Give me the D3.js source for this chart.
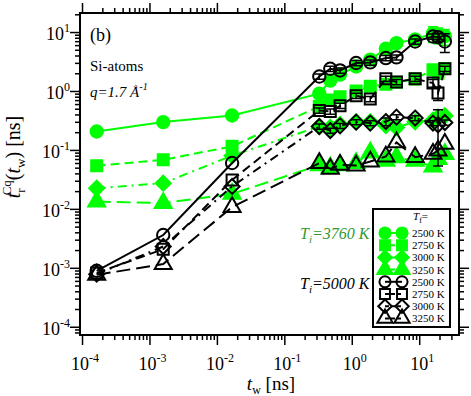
<!DOCTYPE html>
<html>
<head>
<meta charset="utf-8">
<script src="https://cdn.jsdelivr.net/npm/d3@7"></script>
<style>
  body { margin: 0; background: #fff; }
  text { font-family: "Liberation Serif", "Times New Roman", serif; }
</style>
</head>
<body>
<svg id="chart" width="471" height="396"></svg>
<script>
// waiting times t_w [ns]
var tw = [1.65e-4, 1.6e-3, 0.0168, 0.33, 0.48, 0.67, 1.16, 1.88, 3.2, 4.6, 8.7, 16, 19, 24];

// T_i = 3760 K (green)
var gCirc = [0.205, 0.297, 0.384, 0.9, 1.5, 1.9, 2.6, 3.4, 5.2, 6.5, 7.5, 9.5, 9.0, 8.5];
var gSq   = [0.054, 0.068, 0.115, 0.55, 0.7, 0.8, 1.0, 1.2, 1.3, 1.4, 1.6, 2.3, 2.0, 2.4];
var gDia  = [0.0224, 0.0273, 0.08, 0.25, 0.24, 0.27, 0.3, 0.3, 0.26, 0.24, 0.3, 0.32, 0.36, 0.38];
var gTri  = [0.0133, 0.0125, 0.018, 0.055, 0.05, 0.055, 0.06, 0.09, 0.065, 0.075, 0.065, 0.052, 0.07, 0.085];

// T_i = 5000 K (black)
var bCirc = [8.9e-4, 3.6e-3, 0.06, 1.76, 2.38, 2.23, 2.98, 3.05, 3.62, 3.71, 6.9, 8.4, 8.2, 6.9];
var bSq   = [8.2e-4, 2.07e-3, 0.031, 0.467, 0.449, 0.561, 0.83, 0.73, 1.61, 1.42, 1.61, 1.36, 0.92, 2.38];
var bDia  = [7.8e-4, 2.3e-3, 0.024, 0.25, 0.213, 0.256, 0.296, 0.285, 0.303, 0.36, 0.347, 0.285, 0.267, 0.292];
var bTri  = [7.6e-4, 1.16e-3, 0.0107, 0.0597, 0.0478, 0.0558, 0.0543, 0.0636, 0.0773, 0.134, 0.0755, 0.0859, 0.0977, 0.127];

// relative error bars
var gCircErr = [0.1, 0.1, 0.1, 0.15, 0.15, 0.15, 0.15, 0.15, 0.15, 0.15, 0.2, 0.3, 0.3, 0.3];
var bCircErr = [0, 0, 0, 0.1, 0.1, 0.1, 0.1, 0.1, 0.1, 0.1, 0.1, 0.1, 0.15, 0.35];
var bSqErr   = [0, 0, 0, 0.1, 0.1, 0.1, 0.1, 0.1, 0.1, 0.1, 0.1, 0.15, 0.25, 0.1];
var bDiaErr  = [0, 0, 0, 0.1, 0.1, 0.1, 0.1, 0.1, 0.15, 0.1, 0.1, 0.1, 0.8, 0.1];

var tfLabels = ["2500 K", "2750 K", "3000 K", "3250 K"];
var xTickExp = [-4, -3, -2, -1, 0, 1];
var yTickExp = [-4, -3, -2, -1, 0, 1];

var green = "#00ff00";
var series = [
  { v: gCirc, err: gCircErr, color: green, shape: "circle", dash: null, filled: true },
  { v: gSq, err: null, color: green, shape: "square", dash: "9,5", filled: true },
  { v: gDia, err: null, color: green, shape: "diamond", dash: "9,5,2,5", filled: true },
  { v: gTri, err: null, color: green, shape: "triangle", dash: "14,6", filled: true },
  { v: bCirc, err: bCircErr, color: "#000", shape: "circle", dash: null, filled: false },
  { v: bSq, err: bSqErr, color: "#000", shape: "square", dash: "9,5", filled: false },
  { v: bDia, err: bDiaErr, color: "#000", shape: "diamond", dash: "9,5,2,5", filled: false },
  { v: bTri, err: null, color: "#000", shape: "triangle", dash: "14,6", filled: false }
];

var L = 80, R = 459, T = 13, B = 335;
var svg = d3.select("#chart");

var x = d3.scaleLog().domain([Math.pow(10, -4.03), Math.pow(10, 1.59)]).range([L, R]);
var y = d3.scaleLog().domain([Math.pow(10, -4.14), Math.pow(10, 1.323)]).range([B, T]);

// tick values
function majors(exps) { return exps.map(function (e) { return Math.pow(10, e); }); }
function minors(scale) {
  var d = scale.domain(), out = [];
  for (var e = -5; e <= 2; e++) {
    for (var k = 2; k <= 9; k++) {
      var v = k * Math.pow(10, e);
      if (v > d[0] && v < d[1]) out.push(v);
    }
  }
  return out;
}

function tickAxis(axisFn, scale, vals, size, tr) {
  var g = svg.append("g").attr("transform", tr)
    .call(axisFn(scale).tickValues(vals).tickSize(size).tickFormat(""));
  g.select(".domain").remove();
  g.selectAll(".tick line").attr("stroke", "#000").attr("stroke-width", 1.5);
}
[[d3.axisBottom, "translate(0," + B + ")"], [d3.axisTop, "translate(0," + T + ")"]].forEach(function (a) {
  tickAxis(a[0], x, majors(xTickExp), 10, a[1]);
  tickAxis(a[0], x, minors(x), 5, a[1]);
});
[[d3.axisLeft, "translate(" + L + ",0)"], [d3.axisRight, "translate(" + R + ",0)"]].forEach(function (a) {
  tickAxis(a[0], y, majors(yTickExp), 10, a[1]);
  tickAxis(a[0], y, minors(y), 5, a[1]);
});

svg.append("rect").attr("x", L).attr("y", T).attr("width", R - L).attr("height", B - T)
  .attr("fill", "none").attr("stroke", "#000").attr("stroke-width", 2);

// tick labels
xTickExp.forEach(function (e) {
  var t = svg.append("text").attr("x", x(Math.pow(10, e)) + 3).attr("y", 370)
    .attr("text-anchor", "middle").attr("font-size", 18);
  t.append("tspan").text("10");
  t.append("tspan").attr("font-size", 12).attr("dy", -8).text(e);
});
yTickExp.forEach(function (e) {
  var t = svg.append("text").attr("x", 70).attr("y", y(Math.pow(10, e)) + 8)
    .attr("text-anchor", "end").attr("font-size", 18);
  t.append("tspan").text("10");
  t.append("tspan").attr("font-size", 12).attr("dy", -8).text(e);
});

// axis titles
var xl = svg.append("text").attr("x", 271).attr("y", 390).attr("text-anchor", "middle").attr("font-size", 19);
xl.append("tspan").attr("font-style", "italic").text("t");
xl.append("tspan").attr("font-size", 12).attr("dy", 4).text("w");
xl.append("tspan").attr("dy", -4).text(" [ns]");

var yl = svg.append("text").attr("transform", "translate(20,157) rotate(-90)")
  .attr("text-anchor", "middle").attr("font-size", 20);
yl.append("tspan").attr("font-style", "italic").text("t");
yl.append("tspan").attr("font-size", 13).attr("dy", 5).text("r");
yl.append("tspan").attr("font-size", 13).attr("dx", -7).attr("dy", -14).text("Cq");
yl.append("tspan").attr("dy", 9).text("(");
yl.append("tspan").attr("font-style", "italic").text("t");
yl.append("tspan").attr("font-size", 13).attr("dy", 5).text("w");
yl.append("tspan").attr("dy", -5).text(") [ns]");

// marker path
var symMap = { circle: [d3.symbolCircle, 120], square: [d3.symbolSquare, 121], triangle: [d3.symbolTriangle, 125] };
function sym(shape, k) {
  k = k || 1;
  if (shape === "diamond") {
    var r = 7.5 * k;
    return "M0," + (-r) + "L" + r + ",0L0," + r + "L" + (-r) + ",0Z";
  }
  var s = symMap[shape];
  return d3.symbol().type(s[0]).size(s[1] * k * k)();
}

var plot = svg.append("g");
var line = d3.line().x(function (d) { return x(d[0]); }).y(function (d) { return y(d[1]); });

series.forEach(function (s) {
  var pts = tw.map(function (t, i) { return [t, s.v[i], s.err ? s.err[i] : 0]; });
  plot.append("path").attr("d", line(pts)).attr("fill", "none")
    .attr("stroke", s.color).attr("stroke-width", 2)
    .attr("stroke-dasharray", s.dash);

  // error bars
  pts.filter(function (p) { return p[2] > 0; }).forEach(function (p) {
    var cx = x(p[0]), y1 = y(p[1] * (1 + p[2])), y2 = y(p[1] * Math.max(0.05, 1 - p[2]));
    plot.append("path")
      .attr("d", "M" + cx + "," + y1 + "V" + y2 + "M" + (cx - 5) + "," + y1 + "H" + (cx + 5) + "M" + (cx - 5) + "," + y2 + "H" + (cx + 5))
      .attr("stroke", s.color).attr("stroke-width", 1.5).attr("fill", "none");
  });

  plot.selectAll(null).data(pts).enter().append("path")
    .attr("d", sym(s.shape))
    .attr("transform", function (d) { return "translate(" + x(d[0]) + "," + y(d[1]) + ")"; })
    .attr("fill", s.filled ? s.color : "none")
    .attr("stroke", s.color).attr("stroke-width", 2);
});

// annotations
svg.append("text").attr("x", 90).attr("y", 41).attr("font-size", 18).text("(b)");
svg.append("text").attr("x", 90).attr("y", 71).attr("font-size", 15).text("Si-atoms");
var qt = svg.append("text").attr("x", 90).attr("y", 97).attr("font-size", 15).attr("font-style", "italic");
qt.append("tspan").text("q=1.7 Å");
qt.append("tspan").attr("font-size", 10).attr("dy", -7).text("-1");

function tiLabel(yy, val, color) {
  var t = svg.append("text").attr("x", 300).attr("y", yy).attr("font-size", 16)
    .attr("font-style", "italic").attr("fill", color);
  t.append("tspan").text("T");
  t.append("tspan").attr("font-size", 11).attr("dy", 4).text("i");
  t.append("tspan").attr("dy", -4).text("=" + val + " K");
}
tiLabel(239, "3760", "#339933");
tiLabel(289, "5000", "#000");

// legend
var leg = svg.append("g");
leg.append("rect").attr("x", 373).attr("y", 209).attr("width", 77).attr("height", 118)
  .attr("fill", "#fff").attr("stroke", "#000").attr("stroke-width", 2);
var lt = leg.append("text").attr("x", 413).attr("y", 220).attr("font-size", 11);
lt.append("tspan").attr("font-style", "italic").text("T");
lt.append("tspan").attr("font-size", 8).attr("dy", 3).text("f");
lt.append("tspan").attr("dy", -3).text("=");

series.forEach(function (s, i) {
  var ry = 233 + i * 12.2;
  leg.append("line").attr("x1", 385).attr("x2", 402).attr("y1", ry).attr("y2", ry)
    .attr("stroke", s.color).attr("stroke-width", 2).attr("stroke-dasharray", s.dash ? "4,2" : null);
  [385, 402].forEach(function (mx) {
    leg.append("path").attr("d", sym(s.shape, 0.9))
      .attr("transform", "translate(" + mx + "," + ry + ")")
      .attr("fill", s.filled ? s.color : "none")
      .attr("stroke", s.color).attr("stroke-width", 2);
  });
  leg.append("text").attr("x", 412).attr("y", ry + 4).attr("font-size", 11)
    .text(tfLabels[i % 4]);
});
</script>
</body>
</html>
